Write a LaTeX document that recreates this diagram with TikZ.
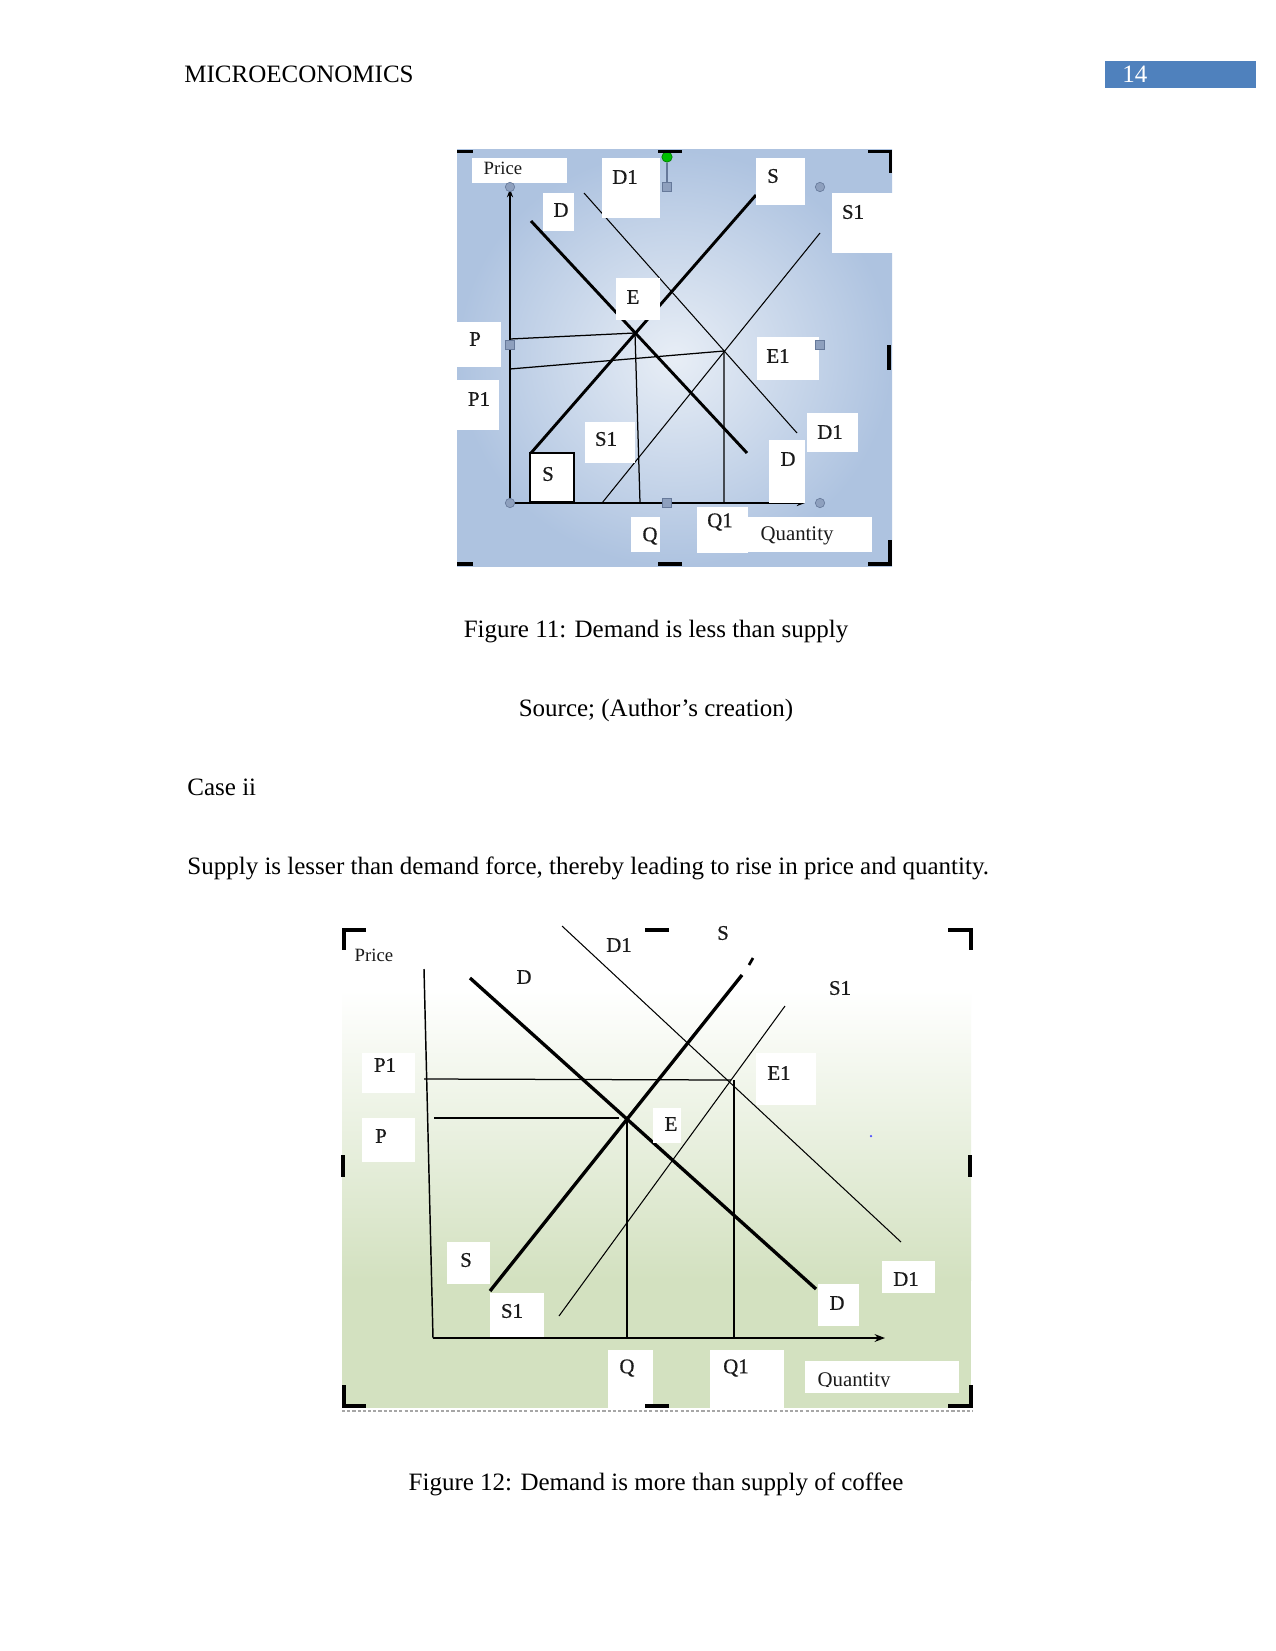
\documentclass[tikz,border=0pt]{standalone}
\usepackage{fontspec}
\setmainfont{Liberation Serif}
\newfontfamily\lblfont[FakeBold=0.6]{Liberation Serif}
\usetikzlibrary{arrows.meta}
\definecolor{headblue}{HTML}{4F81BD}
\definecolor{bgBlueIn}{HTML}{E8EEF6}
\definecolor{bgBlueOut}{HTML}{AEC3E0}
\definecolor{bgGreen}{HTML}{D3E1C0}
\definecolor{handleFill}{HTML}{8EA0BE}
\definecolor{handleLine}{HTML}{66799A}
\definecolor{labelText}{HTML}{1A1A1A}

\begin{document}
\begin{tikzpicture}[
  x=0.48pt, y=-0.48pt,
  pagetext/.style={font=\fontsize{12}{14}\selectfont, inner sep=0pt},
  lbl/.style={font=\lblfont\fontsize{10}{12}\selectfont, text=labelText, inner sep=0pt},
  smalllbl/.style={font=\fontsize{9}{11}\selectfont, text=labelText, inner sep=0pt},
  lblbox/.style={fill=white},
  curvethick/.style={line width=1.4pt},
  curvethin/.style={line width=0.5pt},
  axisline/.style={line width=0.7pt},
  guide/.style={line width=0.6pt},
  crop/.style={fill=black},
  handlecirc/.style={circle, fill=handleFill, draw=handleLine, line width=0.3pt, minimum size=4.5pt, inner sep=0pt},
  handlesq/.style={rectangle, fill=handleFill, draw=handleLine, line width=0.3pt, minimum size=4.3pt, inner sep=0pt}
]
  \useasboundingbox[fill=white] (0,0) rectangle (1275,1651);

  % Page header
  \node[pagetext, anchor=base west] (header) at (184,83) {MICROECONOMICS};
  \fill[headblue] (1105,61) rectangle (1256,88);
  \node[pagetext, anchor=base west, text=white] (pageno) at (1122,83) {14};

  % ---------------- Figure 11 ----------------
  \shade[inner color=bgBlueIn, outer color=bgBlueOut] (457,150) rectangle (892,566);

  \coordinate (origA) at (510,503);
  \coordinate (yTopA) at (510,189);
  \coordinate (xEndA) at (805,503);
  \coordinate (dStartA) at (531,221);   \coordinate (dEndA) at (747,453);
  \coordinate (sStartA) at (531,453);   \coordinate (sEndA) at (756,195);
  \coordinate (dOneStartA) at (584,193); \coordinate (dOneEndA) at (797,433);
  \coordinate (sOneStartA) at (602,503); \coordinate (sOneEndA) at (820,233);
  \coordinate (eqA) at (635,333);
  \coordinate (eqOneA) at (724,351);
  \coordinate (pAxisA) at (510,339);
  \coordinate (pOneAxisA) at (510,369);
  \coordinate (qFootA) at (640,503);
  \coordinate (qOneFootA) at (724,503);

  % axes
  \draw[axisline, -{Stealth[length=4pt]}] (origA) -- (yTopA);
  \draw[axisline, -{Stealth[length=4pt]}] (origA) -- (xEndA);

  % curves
  \draw[curvethick] (dStartA) -- (dEndA);
  \draw[curvethick] (sStartA) -- (sEndA);
  \draw[curvethin] (dOneStartA) -- (dOneEndA);
  \draw[curvethin] (sOneStartA) -- (sOneEndA);

  % price and quantity guides
  \draw[guide] (pAxisA) -- (eqA) -- (qFootA);
  \draw[guide] (pOneAxisA) -- (eqOneA) -- (qOneFootA);

  % label boxes
  \fill[lblbox] (472,158) rectangle (567,183);
  \fill[lblbox] (602,158) rectangle (660,218);
  \fill[lblbox] (756,158) rectangle (805,205);
  \fill[lblbox] (832,193) rectangle (893,253);
  \fill[lblbox] (543,193) rectangle (574,231);
  \fill[lblbox] (616,278) rectangle (660,320);
  \fill[lblbox] (457,322) rectangle (501,367);
  \fill[lblbox] (757,337) rectangle (819,380);
  \fill[lblbox] (457,380) rectangle (499,430);
  \fill[lblbox] (585,422) rectangle (635,463);
  \fill[lblbox] (807,413) rectangle (858,452);
  \fill[lblbox] (769,440) rectangle (805,503);
  \filldraw[fill=white, draw=black, line width=0.6pt] (530,453) rectangle (574,502);
  \fill[lblbox] (631,517) rectangle (660,552);
  \fill[lblbox] (697,507) rectangle (748,553);
  \fill[lblbox] (697,517) rectangle (872,552);

  \node[smalllbl] (priceA) at (503,168) {Price};
  \node[lbl] (dOneTopA) at (625,177) {D1};
  \node[lbl] (sTopA) at (773,176) {S};
  \node[lbl] (sOneTopA) at (853,212) {S1};
  \node[lbl] (dTopA) at (561,210) {D};
  \node[lbl] (eLblA) at (633,297) {E};
  \node[lbl] (pLblA) at (475,339) {P};
  \node[lbl] (eOneLblA) at (778,356) {E1};
  \node[lbl] (pOneLblA) at (479,399) {P1};
  \node[lbl] (sOneMidA) at (606,439) {S1};
  \node[lbl] (dOneBotA) at (830,432) {D1};
  \node[lbl] (dBotA) at (788,459) {D};
  \node[lbl] (sBotA) at (548,474) {S};
  \node[lbl] (qLblA) at (650,536) {Q};
  \node[lbl] (qOneLblA) at (720,522) {Q1};
  \node[smalllbl, font=\fontsize{10}{12}\selectfont] (quantA) at (797,536) {Quantity};

  % selection handles
  \node[handlecirc] (hTopLeft) at (510,187) {};
  \node[handlecirc] (hTopRight) at (820,187) {};
  \node[handlecirc] (hBotLeft) at (510,503) {};
  \node[handlecirc] (hBotRight) at (820,503) {};
  \node[handlesq] (hLeft) at (510,345) {};
  \node[handlesq] (hRight) at (820,345) {};
  \node[handlesq] (hBot) at (667,503) {};
  \node[handlesq] (hTop) at (667,187) {};
  \node[circle, fill=green!75!black, draw=green!45!black, line width=0.3pt, minimum size=5pt, inner sep=0pt] (hRot) at (667,157) {};
  \draw[handleLine, line width=0.5pt] (hRot) -- (hTop);

  % crop marks
  \fill[crop] (457,150) rectangle (473,153);
  \fill[crop] (658,150) rectangle (682,153);
  \fill[crop] (868,150) rectangle (892,153);
  \fill[crop] (889,150) rectangle (892,173);
  \fill[crop] (887,345) rectangle (891,370);
  \fill[crop] (888,540) rectangle (892,566);
  \fill[crop] (868,562) rectangle (892,566);
  \fill[crop] (658,562) rectangle (682,566);
  \fill[crop] (457,562) rectangle (473,566);

  % captions and text
  \node[pagetext, anchor=base] (capA) at (656,637) {Figure 11: Demand is less than supply};
  \node[pagetext, anchor=base] (srcA) at (656,716) {Source; (Author’s creation)};
  \node[pagetext, anchor=base west] (caseTwo) at (187,795) {Case ii};
  \node[pagetext, anchor=base west] (caseText) at (187,874) {Supply is lesser than demand force, thereby leading to rise in price and quantity.};

  % ---------------- Figure 12 ----------------
  \fill[white] (342,928) rectangle (971,1408);
  \shade[top color=white, bottom color=bgGreen] (342,990) rectangle (971,1280);
  \fill[bgGreen] (342,1279) rectangle (971,1408);

  \coordinate (yTopB) at (424,969);
  \coordinate (origB) at (433,1338);
  \coordinate (xEndB) at (885,1338);
  \coordinate (dStartB) at (470,978);    \coordinate (dEndB) at (816,1289);
  \coordinate (sStartB) at (490,1291);   \coordinate (sEndB) at (742,975);
  \coordinate (tickA) at (753,958);      \coordinate (tickB) at (749,965);
  \coordinate (dOneStartB) at (562,926); \coordinate (dOneEndB) at (901,1242);
  \coordinate (sOneStartB) at (559,1316); \coordinate (sOneEndB) at (785,1006);
  \coordinate (eqB) at (627,1119);
  \coordinate (eqOneB) at (731,1080);
  \coordinate (pStartB) at (434,1118);   \coordinate (pEndB) at (619,1118);
  \coordinate (pOneAxisB) at (424,1079);
  \coordinate (qTopB) at (627,1121);     \coordinate (qFootB) at (627,1338);
  \coordinate (qOneTopB) at (734,1080);  \coordinate (qOneFootB) at (734,1338);

  % axes
  \draw[axisline] (yTopB) -- (origB);
  \draw[axisline, -{Stealth[length=5pt]}] (origB) -- (xEndB);

  % curves
  \draw[line width=1.6pt] (dStartB) -- (dEndB);
  \draw[line width=1.6pt] (sStartB) -- (sEndB);
  \draw[line width=1.3pt] (tickA) -- (tickB);
  \draw[curvethin] (dOneStartB) -- (dOneEndB);
  \draw[curvethin] (sOneStartB) -- (sOneEndB);

  % guides
  \draw[guide] (pStartB) -- (pEndB);
  \draw[guide] (pOneAxisB) -- (eqOneB);
  \draw[guide] (qTopB) -- (qFootB);
  \draw[guide] (qOneTopB) -- (qOneFootB);

  % label boxes
  \fill[lblbox] (362,1053) rectangle (415,1093);
  \fill[lblbox] (756,1053) rectangle (816,1105);
  \fill[lblbox] (362,1118) rectangle (415,1162);
  \fill[lblbox] (653,1108) rectangle (681,1143);
  \fill[lblbox] (447,1242) rectangle (490,1284);
  \fill[lblbox] (490,1293) rectangle (544,1337);
  \fill[lblbox] (882,1261) rectangle (935,1293);
  \fill[lblbox] (818,1284) rectangle (859,1326);
  \fill[lblbox] (608,1350) rectangle (653,1408);
  \fill[lblbox] (710,1350) rectangle (784,1408);
  \fill[lblbox] (805,1361) rectangle (959,1393);

  \node[smalllbl] (priceB) at (374,955) {Price};
  \node[lbl] (dOneTopB) at (619,945) {D1};
  \node[lbl] (sTopB) at (723,933) {S};
  \node[lbl] (dTopB) at (524,977) {D};
  \node[lbl] (sOneTopB) at (840,988) {S1};
  \node[lbl] (pOneLblB) at (385,1065) {P1};
  \node[lbl] (eOneLblB) at (779,1073) {E1};
  \node[lbl] (pLblB) at (381,1136) {P};
  \node[lbl] (eLblB) at (671,1124) {E};
  \node[lbl] (sBotB) at (466,1260) {S};
  \node[lbl] (sOneBotB) at (512,1311) {S1};
  \node[lbl] (dOneBotB) at (906,1279) {D1};
  \node[lbl] (dBotB) at (837,1303) {D};
  \node[lbl] (qLblB) at (627,1368) {Q};
  \node[lbl] (qOneLblB) at (736,1368) {Q1};
  \begin{scope}
    \clip (805,1361) rectangle (959,1386);
    \node[smalllbl, font=\fontsize{10}{12}\selectfont, anchor=base] (quantB) at (854,1386) {Quantity};
  \end{scope}
  \node[circle, fill=blue!70, inner sep=0pt, minimum size=1.2pt] (dotB) at (871,1136) {};

  % crop marks
  \fill[crop] (342,928) rectangle (346,950);
  \fill[crop] (342,928) rectangle (366,932);
  \fill[crop] (645,928) rectangle (669,932);
  \fill[crop] (948,928) rectangle (973,932);
  \fill[crop] (969,928) rectangle (973,950);
  \fill[crop] (341,1155) rectangle (345,1177);
  \fill[crop] (968,1155) rectangle (972,1177);
  \fill[crop] (342,1385) rectangle (346,1408);
  \fill[crop] (342,1404) rectangle (366,1408);
  \fill[crop] (645,1404) rectangle (669,1408);
  \fill[crop] (948,1404) rectangle (973,1408);
  \fill[crop] (969,1385) rectangle (973,1408);
  \coordinate (dashL) at (342,1411);
  \coordinate (dashR) at (973,1411);
  \draw[gray!70, line width=0.6pt, dash pattern=on 1.5pt off 1pt] (dashL) -- (dashR);

  \node[pagetext, anchor=base] (capB) at (656,1490) {Figure 12: Demand is more than supply of coffee};
\end{tikzpicture}
\end{document}
